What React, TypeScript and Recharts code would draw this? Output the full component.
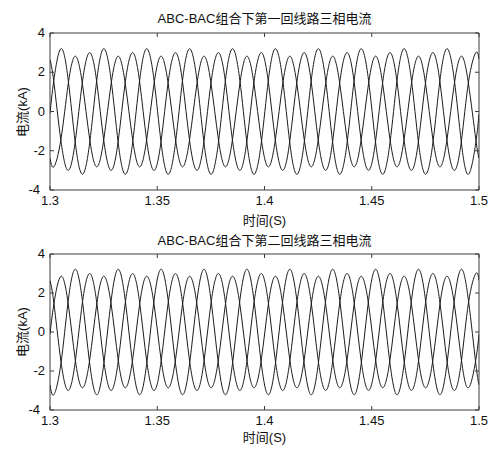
import { LineChart, Line, XAxis, YAxis, ReferenceArea } from 'recharts'

// 时间采样点 (每 1/300 s 一个点, 对应各相的峰值/半值位置)
const times = [
  1.3,
  1.3018, 1.3051, 1.3085, 1.3118, 1.3151, 1.3185,
  1.3218, 1.3251, 1.3285, 1.3318, 1.3351, 1.3385,
  1.3418, 1.3451, 1.3485, 1.3518, 1.3551, 1.3585,
  1.3618, 1.3651, 1.3685, 1.3718, 1.3751, 1.3785,
  1.3818, 1.3851, 1.3885, 1.3918, 1.3951, 1.3985,
  1.4018, 1.4051, 1.4085, 1.4118, 1.4151, 1.4185,
  1.4218, 1.4251, 1.4285, 1.4318, 1.4351, 1.4385,
  1.4418, 1.4451, 1.4485, 1.4518, 1.4551, 1.4585,
  1.4618, 1.4651, 1.4685, 1.4718, 1.4751, 1.4785,
  1.4818, 1.4851, 1.4885, 1.4918, 1.4951, 1.4985,
  1.5,
]

// 第一回线路 (kA)
const line1A = [
  -0.1,
  1.6, 3.2, 1.6, -1.6, -3.2, -1.6,
  1.6, 3.2, 1.6, -1.6, -3.2, -1.6,
  1.6, 3.2, 1.6, -1.6, -3.2, -1.6,
  1.6, 3.2, 1.6, -1.6, -3.2, -1.6,
  1.6, 3.2, 1.6, -1.6, -3.2, -1.6,
  1.6, 3.2, 1.6, -1.6, -3.2, -1.6,
  1.6, 3.2, 1.6, -1.6, -3.2, -1.6,
  1.6, 3.2, 1.6, -1.6, -3.2, -1.6,
  1.6, 3.2, 1.6, -1.6, -3.2, -1.6,
  1.6, 3.2, 1.6, -1.6, -3.2, -1.6,
  -0.13,
]
const line1B = [
  -2.38,
  -2.82, -1.41, 1.41, 2.82, 1.41, -1.41,
  -2.82, -1.41, 1.41, 2.82, 1.41, -1.41,
  -2.82, -1.41, 1.41, 2.82, 1.41, -1.41,
  -2.82, -1.41, 1.41, 2.82, 1.41, -1.41,
  -2.82, -1.41, 1.41, 2.82, 1.41, -1.41,
  -2.82, -1.41, 1.41, 2.82, 1.41, -1.41,
  -2.82, -1.41, 1.41, 2.82, 1.41, -1.41,
  -2.82, -1.41, 1.41, 2.82, 1.41, -1.41,
  -2.82, -1.41, 1.41, 2.82, 1.41, -1.41,
  -2.82, -1.41, 1.41, 2.82, 1.41, -1.41,
  -2.38,
]
const line1C = [
  2.64,
  1.5, -1.5, -3.0, -1.5, 1.5, 3.0,
  1.5, -1.5, -3.0, -1.5, 1.5, 3.0,
  1.5, -1.5, -3.0, -1.5, 1.5, 3.0,
  1.5, -1.5, -3.0, -1.5, 1.5, 3.0,
  1.5, -1.5, -3.0, -1.5, 1.5, 3.0,
  1.5, -1.5, -3.0, -1.5, 1.5, 3.0,
  1.5, -1.5, -3.0, -1.5, 1.5, 3.0,
  1.5, -1.5, -3.0, -1.5, 1.5, 3.0,
  1.5, -1.5, -3.0, -1.5, 1.5, 3.0,
  1.5, -1.5, -3.0, -1.5, 1.5, 3.0,
  2.66,
]

// 第二回线路 (kA)
const line2A = [
  -0.1,
  1.43, 2.86, 1.43, -1.43, -2.86, -1.43,
  1.43, 2.86, 1.43, -1.43, -2.86, -1.43,
  1.43, 2.86, 1.43, -1.43, -2.86, -1.43,
  1.43, 2.86, 1.43, -1.43, -2.86, -1.43,
  1.43, 2.86, 1.43, -1.43, -2.86, -1.43,
  1.43, 2.86, 1.43, -1.43, -2.86, -1.43,
  1.43, 2.86, 1.43, -1.43, -2.86, -1.43,
  1.43, 2.86, 1.43, -1.43, -2.86, -1.43,
  1.43, 2.86, 1.43, -1.43, -2.86, -1.43,
  1.43, 2.86, 1.43, -1.43, -2.86, -1.43,
  -0.11,
]
const line2B = [
  -2.72,
  -3.22, -1.61, 1.61, 3.22, 1.61, -1.61,
  -3.22, -1.61, 1.61, 3.22, 1.61, -1.61,
  -3.22, -1.61, 1.61, 3.22, 1.61, -1.61,
  -3.22, -1.61, 1.61, 3.22, 1.61, -1.61,
  -3.22, -1.61, 1.61, 3.22, 1.61, -1.61,
  -3.22, -1.61, 1.61, 3.22, 1.61, -1.61,
  -3.22, -1.61, 1.61, 3.22, 1.61, -1.61,
  -3.22, -1.61, 1.61, 3.22, 1.61, -1.61,
  -3.22, -1.61, 1.61, 3.22, 1.61, -1.61,
  -3.22, -1.61, 1.61, 3.22, 1.61, -1.61,
  -2.72,
]
const line2C = [
  2.64,
  1.5, -1.5, -3.0, -1.5, 1.5, 3.0,
  1.5, -1.5, -3.0, -1.5, 1.5, 3.0,
  1.5, -1.5, -3.0, -1.5, 1.5, 3.0,
  1.5, -1.5, -3.0, -1.5, 1.5, 3.0,
  1.5, -1.5, -3.0, -1.5, 1.5, 3.0,
  1.5, -1.5, -3.0, -1.5, 1.5, 3.0,
  1.5, -1.5, -3.0, -1.5, 1.5, 3.0,
  1.5, -1.5, -3.0, -1.5, 1.5, 3.0,
  1.5, -1.5, -3.0, -1.5, 1.5, 3.0,
  1.5, -1.5, -3.0, -1.5, 1.5, 3.0,
  2.66,
]

const xTicks = [1.3, 1.35, 1.4, 1.45, 1.5]
const yTicks = [-4, -2, 0, 2, 4]

const FONT = '"Liberation Sans", Arial, "Noto Sans CJK SC", sans-serif'
const AXIS = '#3c3c3c'
const INK = '#1c1c1c'

const BottomTick = ({ x, y, payload }: any) => (
  <g>
    <line x1={x} y1={y} x2={x} y2={y - 4} stroke={AXIS} />
    <text x={x} y={y + 15} textAnchor="middle" fontSize={13} fontFamily={FONT} fill="#111">
      {payload.value}
    </text>
  </g>
)

const TopTick = ({ x, y }: any) => <line x1={x} y1={y} x2={x} y2={y + 4} stroke={AXIS} />

const LeftTick = ({ x, y, payload }: any) => (
  <g>
    <line x1={x} y1={y} x2={x + 4} y2={y} stroke={AXIS} />
    {/* 最下面的 -4 稍微左移, 避免和 1.3 挤在一起 */}
    <text x={x - (payload.value === -4 ? 10 : 5)} y={y + 4} textAnchor="end" fontSize={13} fontFamily={FONT} fill="#111">
      {payload.value}
    </text>
  </g>
)

const RightTick = ({ x, y }: any) => <line x1={x} y1={y} x2={x - 4} y2={y} stroke={AXIS} />

interface PanelProps {
  title: string
  a: number[]
  b: number[]
  c: number[]
  top: number
  plotTop: number
  plotBottom: number
  titleY: number
  labelY: number
}

function Panel({ title, a, b, c, top, plotTop, plotBottom, titleY, labelY }: PanelProps) {
  const data = times.map((t, i) => ({ t, a: a[i], b: b[i], c: c[i] }))
  const textStyle = { position: 'absolute' as const, fontFamily: FONT, fontSize: 13, color: '#111', whiteSpace: 'nowrap' as const, lineHeight: '15px' }

  return (
    <div style={{ position: 'absolute', left: 0, top, width: 492, height: 225 }}>
      <LineChart width={492} height={225} data={data} margin={{ top: plotTop - 1, right: 12, bottom: 225 - plotBottom - 20, left: 0 }}>
        <XAxis dataKey="t" type="number" domain={[1.3, 1.5]} ticks={xTicks} interval={0} allowDataOverflow
          height={20} tickSize={0} tickMargin={0} axisLine={false} tick={<BottomTick />} />
        <XAxis xAxisId="top" orientation="top" dataKey="t" type="number" domain={[1.3, 1.5]} ticks={xTicks} interval={0}
          allowDataOverflow height={1} tickSize={0} tickMargin={0} axisLine={false} tick={<TopTick />} />
        <YAxis domain={[-4, 4]} ticks={yTicks} interval={0} allowDataOverflow width={50}
          tickSize={0} tickMargin={0} axisLine={false} tick={<LeftTick />} />
        <YAxis yAxisId="right" orientation="right" domain={[-4, 4]} ticks={yTicks} interval={0} allowDataOverflow width={1}
          tickSize={0} tickMargin={0} axisLine={false} tick={<RightTick />} />
        <ReferenceArea x1={1.3} x2={1.5} y1={-4} y2={4} fill="none" fillOpacity={0} stroke={AXIS} strokeWidth={1} ifOverflow="visible" />
        <Line dataKey="a" type="natural" stroke={INK} strokeWidth={1} dot={false} isAnimationActive={false} />
        <Line dataKey="b" type="natural" stroke={INK} strokeWidth={1} dot={false} isAnimationActive={false} />
        <Line dataKey="c" type="natural" stroke={INK} strokeWidth={1} dot={false} isAnimationActive={false} />
      </LineChart>

      <div style={{ ...textStyle, left: 50, width: 429, top: titleY - 7.5, textAlign: 'center' }}>{title}</div>
      <div style={{ ...textStyle, left: 50, width: 429, top: labelY - 7.5, textAlign: 'center' }}>时间(S)</div>
      <div style={{ ...textStyle, left: 22, top: (plotTop + plotBottom) / 2, transform: 'translate(-50%, -50%) rotate(-90deg)' }}>
        电流(kA)
      </div>
    </div>
  )
}

export default function App() {
  return (
    <div style={{ position: 'absolute', left: 0, top: 0, width: 492, height: 450, background: '#fff' }}>
      <Panel title="ABC-BAC组合下第一回线路三相电流" a={line1A} b={line1B} c={line1C}
        top={0} plotTop={33} plotBottom={190} titleY={18} labelY={220} />
      <Panel title="ABC-BAC组合下第二回线路三相电流" a={line2A} b={line2B} c={line2C}
        top={225} plotTop={29} plotBottom={185} titleY={15} labelY={212} />
    </div>
  )
}
